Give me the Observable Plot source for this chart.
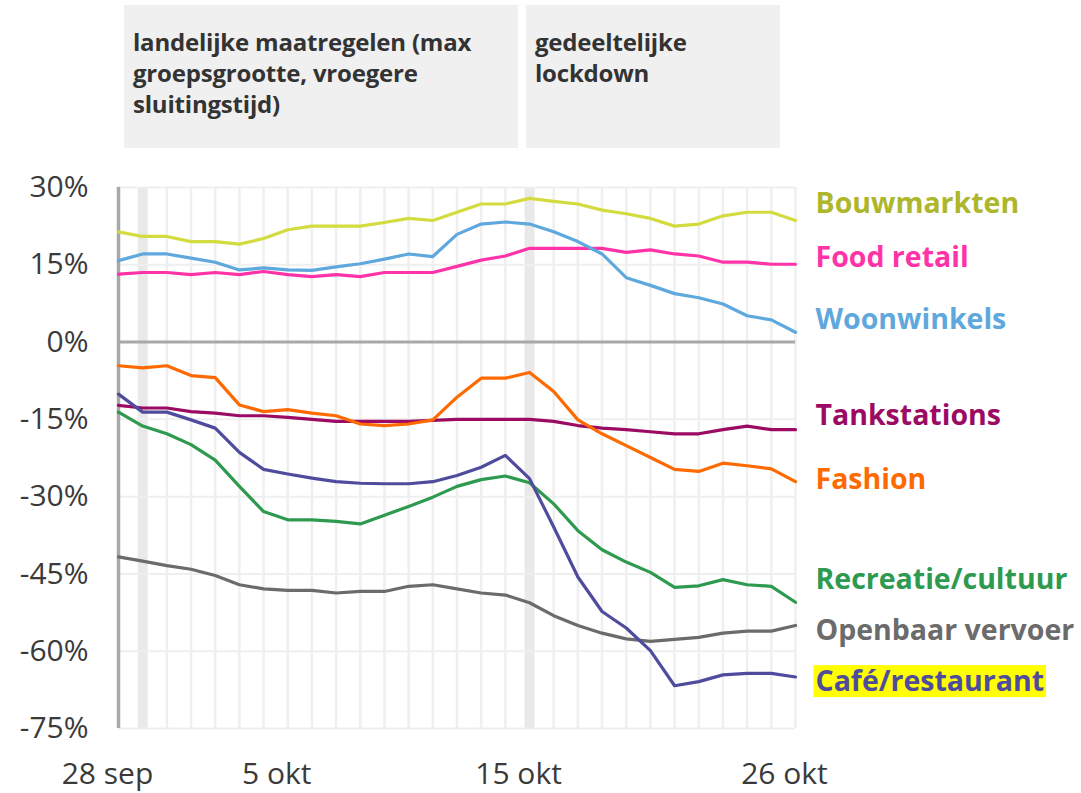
<!DOCTYPE html>
<html>
<head>
<meta charset="utf-8">
<script src="https://cdn.jsdelivr.net/npm/d3@7"></script>
<script src="https://cdn.jsdelivr.net/npm/@observablehq/plot@0.6"></script>
<style>
  html, body { margin: 0; padding: 0; background: #fff; }
  #wrap { position: relative; width: 1081px; height: 793px; font-family: "Open Sans", sans-serif; }
  .box { position: absolute; top: 5px; height: 143px; background: #f0f0f0; box-sizing: border-box;
         padding: 21px 0 0 9px; font-weight: 700; font-size: 24px; line-height: 31px; color: #333; letter-spacing: -0.2px; }
</style>
</head>
<body>
<div id="wrap">
  <div class="box" style="left:124px;width:394px;">landelijke maatregelen (max<br>groepsgrootte, vroegere<br>sluitingstijd)</div>
  <div class="box" style="left:526px;width:254px;">gedeeltelijke<br>lockdown</div>
</div>
<script>
// ---- data ----
const startDate = new Date(Date.UTC(2020, 8, 28));
const endDate = new Date(Date.UTC(2020, 9, 27));
const dates = d3.utcDays(startDate, endDate); // 28 sep .. 26 okt

const bouwmarkten = [21.4,20.5,20.5,19.5,19.5,19.0,20.1,21.8,22.5,22.5,22.5,23.2,24.0,23.6,25.2,26.8,26.8,27.9,27.3,26.8,25.6,24.9,24.0,22.5,22.9,24.5,25.2,25.2,23.6];
const foodRetail = [13.2,13.5,13.5,13.1,13.5,13.1,13.7,13.1,12.7,13.1,12.7,13.5,13.5,13.5,14.7,15.9,16.7,18.2,18.2,18.2,18.2,17.4,17.9,17.1,16.7,15.5,15.5,15.1,15.1];
const woonwinkels = [15.8,17.1,17.1,16.3,15.5,14.0,14.4,14.0,13.9,14.6,15.2,16.1,17.1,16.6,20.9,22.9,23.3,22.9,21.4,19.5,17.1,12.5,11.0,9.4,8.6,7.4,5.1,4.3,1.9];
const tankstations = [-12.3,-12.8,-12.8,-13.5,-13.8,-14.3,-14.3,-14.6,-15.0,-15.4,-15.4,-15.4,-15.4,-15.2,-15.0,-15.0,-15.0,-15.0,-15.4,-16.2,-16.7,-17.0,-17.4,-17.8,-17.8,-17.0,-16.3,-17.0,-17.0];
const fashion = [-4.6,-5.0,-4.6,-6.5,-6.9,-12.2,-13.5,-13.1,-13.8,-14.3,-15.9,-16.2,-15.9,-15.1,-10.7,-7.0,-7.0,-5.9,-9.6,-15.1,-17.8,-20.1,-22.4,-24.7,-25.1,-23.5,-24.0,-24.6,-27.1];
const recreatie = [-13.6,-16.3,-17.8,-19.9,-22.9,-28.0,-32.9,-34.5,-34.5,-34.8,-35.3,-33.6,-31.9,-30.1,-28.0,-26.7,-26.0,-27.3,-31.4,-36.6,-40.3,-42.7,-44.7,-47.6,-47.3,-46.1,-47.1,-47.4,-50.5];
const openbaar = [-41.7,-42.5,-43.4,-44.1,-45.3,-47.1,-47.9,-48.2,-48.2,-48.7,-48.4,-48.4,-47.4,-47.1,-47.9,-48.7,-49.1,-50.6,-53.1,-55.0,-56.5,-57.6,-58.1,-57.7,-57.3,-56.5,-56.1,-56.1,-55.0];
const cafe = [-10.1,-13.6,-13.6,-15.1,-16.7,-21.4,-24.7,-25.6,-26.4,-27.1,-27.4,-27.5,-27.5,-27.1,-25.9,-24.3,-22.0,-26.5,-35.9,-45.6,-52.3,-55.5,-59.9,-66.7,-65.9,-64.6,-64.3,-64.3,-65.0];

const seriesNames = ["Bouwmarkten","Food retail","Woonwinkels","Tankstations","Fashion","Recreatie/cultuur","Openbaar vervoer","Café/restaurant"];
const seriesValues = [bouwmarkten, foodRetail, woonwinkels, tankstations, fashion, recreatie, openbaar, cafe];

const yTicks = [30, 15, 0, -15, -30, -45, -60, -75];
const xTickDates = [new Date(Date.UTC(2020,8,28)), new Date(Date.UTC(2020,9,5)), new Date(Date.UTC(2020,9,15)), new Date(Date.UTC(2020,9,26))];
const xTickLabels = ["28 sep", "5 okt", "15 okt", "26 okt"];
const bandDates = [new Date(Date.UTC(2020,8,29)), new Date(Date.UTC(2020,9,15))];

// ---- styles ----
const lineColors = ["#d3db3f","#ff33a8","#5fa8dd","#9b0b63","#ff6a00","#2e9a4f","#6b6b6b","#4f4c9e"];
const labelColors = ["#aeb62b","#ff33a8","#5fa8dd","#9b0b63","#ff6a00","#2e9a4f","#6b6b6b","#4f4c9e"];
const labelDy = [-17, -6, -12, -14, -2, -22, 5, 5];

const rows = [];
seriesNames.forEach((name, s) => {
  seriesValues[s].forEach((v, i) => rows.push({series: name, date: dates[i], value: v}));
});
const labelRows = seriesNames.map((name, s) => ({
  series: name, date: dates[dates.length - 1], value: seriesValues[s][seriesValues[s].length - 1],
  color: labelColors[s], dy: labelDy[s]
}));

const color = {domain: seriesNames, range: lineColors};

const marks = [
  Plot.ruleX(dates, {stroke: "#efefef", strokeWidth: 2.5}),
  Plot.ruleX(bandDates, {stroke: "#e9e9e9", strokeWidth: 10}),
  Plot.ruleY(yTicks.filter(d => d !== 0), {stroke: "#efefef", strokeWidth: 2}),
  Plot.axisY({ticks: yTicks, tickFormat: d => `${d}%`, tickSize: 0, tickPadding: 30, fontSize: 30, fill: "#3a3a3a", label: null}),
  Plot.axisX({ticks: xTickDates, tickFormat: d => xTickLabels[xTickDates.findIndex(t => +t === +d)], tickSize: 0, tickPadding: 34, fontSize: 30, fill: "#3a3a3a", label: null, dx: -11}),
  Plot.ruleY([0], {stroke: "#a8a8a8", strokeWidth: 3}),
  Plot.ruleX([dates[0]], {stroke: "#a8a8a8", strokeWidth: 3.5}),
  Plot.lineY(rows, {x: "date", y: "value", stroke: "series", strokeWidth: 3.2})
];
labelRows.forEach(r => {
  marks.push(Plot.text([r], {x: "date", y: "value", text: "series", fill: r.color, dx: 20, dy: r.dy,
    textAnchor: "start", fontSize: 28.5, fontWeight: "bold", className: r.series === "Café/restaurant" ? "hl" : undefined}));
});

const chart = Plot.plot({
  width: 1081, height: 793,
  marginLeft: 118, marginRight: 286, marginTop: 187, marginBottom: 65,
  style: {fontFamily: "'Open Sans', sans-serif", color: "#3a3a3a", background: "#fff"},
  x: {type: "utc", domain: [dates[0], dates[dates.length - 1]]},
  y: {domain: [-75, 30]},
  color,
  marks
});
document.getElementById("wrap").prepend(chart);

// yellow highlight behind "Café/restaurant"
const hl = chart.querySelector("g.hl text") || chart.querySelector(".hl text");
if (hl) {
  const bb = hl.getBBox();
  const rect = document.createElementNS("http://www.w3.org/2000/svg", "rect");
  rect.setAttribute("x", bb.x - 2);
  rect.setAttribute("y", bb.y + 4);
  rect.setAttribute("width", bb.width + 4);
  rect.setAttribute("height", bb.height - 6);
  rect.setAttribute("fill", "#ffff00");
  if (hl.getAttribute("transform")) rect.setAttribute("transform", hl.getAttribute("transform"));
  hl.parentNode.insertBefore(rect, hl);
}
</script>
</body>
</html>
